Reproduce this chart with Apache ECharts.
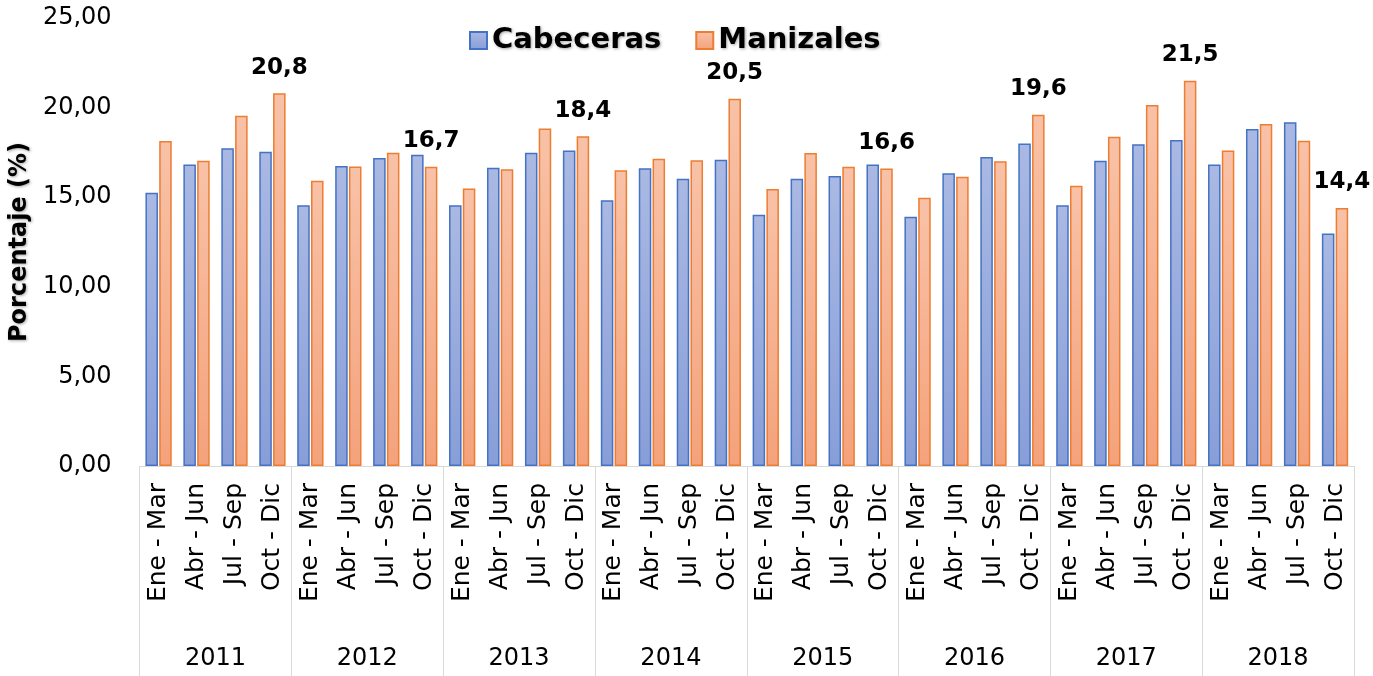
<!DOCTYPE html>
<html>
<head>
<meta charset="utf-8">
<title>Cabeceras vs Manizales</title>
<script src="https://cdn.jsdelivr.net/npm/echarts@6/dist/echarts.min.js"></script>
<style>
  html, body { margin: 0; padding: 0; background: #fff; }
  #chart { width: 1373px; height: 676px; }
</style>
</head>
<body>
<div id="chart"></div>
<script>
// datos
const years = ['2011', '2012', '2013', '2014', '2015', '2016', '2017', '2018']
const quarters = ['Ene - Mar', 'Abr - Jun', 'Jul - Sep', 'Oct - Dic']
const cabeceras = [
  15.25, 16.83, 17.73, 17.54,
  14.55, 16.74, 17.19, 17.37,
  14.55, 16.65, 17.48, 17.61,
  14.83, 16.61, 16.03, 17.09,
  14.02, 16.03, 16.18, 16.83,
  13.91, 16.33, 17.24, 17.99,
  14.55, 17.04, 17.95, 18.19,
  16.83, 18.81, 19.18, 12.98
]
const manizales = [
  18.14, 17.04, 19.55, 20.8,
  15.92, 16.72, 17.48, 16.7,
  15.49, 16.56, 18.84, 18.4,
  16.5, 17.15, 17.06, 20.5,
  15.46, 17.47, 16.7, 16.6,
  14.97, 16.14, 17.0, 19.6,
  15.64, 18.38, 20.15, 21.5,
  17.61, 19.08, 18.15, 14.4
]
const yTicks = [0, 5, 10, 15, 20, 25]

// categorias: trimestre repetido por cada año
const categories = []
years.forEach(() => quarters.forEach((q) => categories.push(q)))

const font = 'DejaVu Sans'
const shadow = {
  textShadowColor: 'rgba(0,0,0,0.35)',
  textShadowBlur: 3,
  textShadowOffsetX: 1,
  textShadowOffsetY: 1
}

const gradient = (top, bottom) => new echarts.graphic.LinearGradient(0, 0, 0, 1, [
  { offset: 0, color: top },
  { offset: 1, color: bottom }
])

const chart = echarts.init(document.getElementById('chart'))
const option = {
  animation: false,
  textStyle: { fontFamily: font },
  legend: {
    top: 21,
    left: 464,
    icon: 'rect',
    itemWidth: 17,
    itemHeight: 17,
    itemGap: 34,
    textStyle: {
      fontFamily: font,
      fontSize: 29,
      fontWeight: 'bold',
      color: '#000',
      ...shadow
    },
    data: ['Cabeceras', 'Manizales']
  },
  grid: {
    left: 138,
    right: 19,
    top: 18,
    bottom: 210
  },
  xAxis: [
    {
      type: 'category',
      data: categories,
      axisLine: { lineStyle: { color: '#d9d9d9' } },
      axisTick: { show: false },
      axisLabel: {
        rotate: 90,
        interval: 0,
        margin: 17,
        fontSize: 25,
        color: '#000',
        fontFamily: font
      }
    },
    {
      type: 'category',
      data: years,
      position: 'bottom',
      axisLine: { show: false },
      axisTick: { show: true, length: 210, lineStyle: { color: '#d9d9d9' } },
      axisLabel: {
        margin: 181,
        fontSize: 24,
        color: '#000',
        fontFamily: font
      }
    }
  ],
  yAxis: {
    type: 'value',
    min: yTicks[0],
    max: yTicks[yTicks.length - 1],
    interval: 5,
    name: 'Porcentaje (%)',
    nameLocation: 'middle',
    nameGap: 104,
    nameTextStyle: {
      fontFamily: font,
      fontSize: 24,
      fontWeight: 'bold',
      color: '#000',
      ...shadow
    },
    axisLine: { show: false },
    axisTick: { show: false },
    splitLine: { show: false },
    axisLabel: {
      margin: 28,
      fontSize: 24,
      color: '#000',
      fontFamily: font,
      formatter: (v) => v.toFixed(2).replace('.', ',')
    }
  },
  series: [
    {
      name: 'Cabeceras',
      type: 'bar',
      xAxisIndex: 0,
      data: cabeceras,
      barWidth: '33%',
      barGap: '10%',
      itemStyle: {
        color: gradient('#aab9e3', '#889ed8'),
        borderColor: '#4472c4',
        borderWidth: 1.5
      }
    },
    {
      name: 'Manizales',
      type: 'bar',
      xAxisIndex: 0,
      data: manizales,
      barWidth: '33%',
      barGap: '10%',
      itemStyle: {
        color: gradient('#f8c2a8', '#f4a27b'),
        borderColor: '#ed7d31',
        borderWidth: 1.5
      },
      label: {
        show: true,
        position: 'top',
        distance: 14,
        fontFamily: font,
        fontSize: 23,
        fontWeight: 'bold',
        color: '#000',
        // solo el trimestre Oct - Dic lleva etiqueta
        formatter: (p) => (p.dataIndex % 4 === 3 ? p.value.toFixed(1).replace('.', ',') : '')
      }
    }
  ]
}
chart.setOption(option)
</script>
</body>
</html>
